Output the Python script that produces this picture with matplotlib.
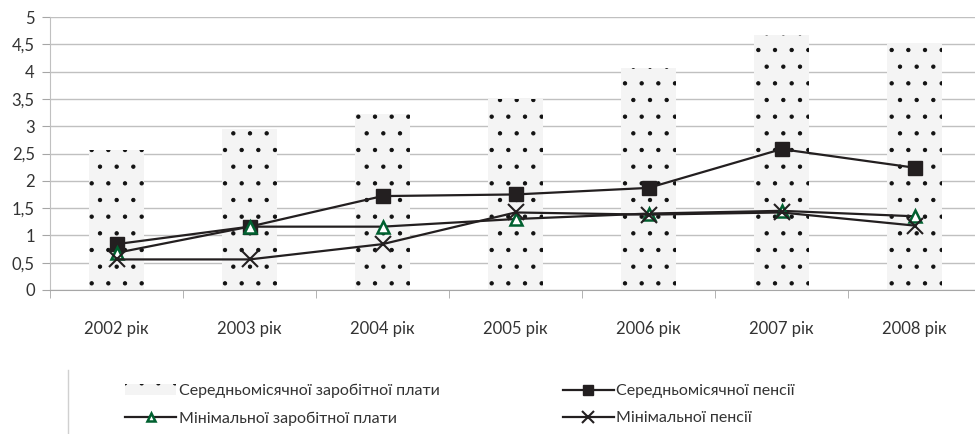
import matplotlib
matplotlib.use("Agg")
import matplotlib.pyplot as plt
from matplotlib.lines import Line2D
import numpy as np

plt.rcParams['font.family'] = ['Lato', 'Noto Sans', 'DejaVu Sans']
plt.rcParams['hatch.linewidth'] = 0.7

years = ["2002 рік", "2003 рік", "2004 рік", "2005 рік", "2006 рік", "2007 рік", "2008 рік"]
avg_wage = [2.56, 2.95, 3.22, 3.5, 4.06, 4.67, 4.52]
avg_pension = [0.84, 1.16, 1.72, 1.75, 1.87, 2.58, 2.24]
min_wage = [0.68, 1.16, 1.16, 1.30, 1.40, 1.45, 1.35]
min_pension = [0.56, 0.56, 0.84, 1.42, 1.38, 1.42, 1.18]

lbl_bar = "Середньомісячної заробітної плати"
lbl_avgp = "Середньомісячної пенсії"
lbl_minw = "Мінімальної заробітної плати"
lbl_minp = "Мінімальної пенсії"

fig = plt.figure(figsize=(9.75, 4.34), dpi=100)
ax = fig.add_axes([50/975, 1-290/434, 931/975, 273/434])

x = np.arange(len(years))
line_c = '#231f20'
ax.bar(x, avg_wage, width=0.41, color='#f4f4f4', edgecolor='#111111', linewidth=0,
       hatch='.', label=lbl_bar, zorder=2)
ax.plot(x, avg_pension, color=line_c, lw=1.6, marker='s', ms=10,
        mfc=line_c, mec=line_c, label=lbl_avgp, zorder=3)
ax.plot(x, min_wage, color=line_c, lw=1.6, marker='^', ms=8, mfc='white',
        mec='#00602f', mew=1.8, label=lbl_minw, zorder=4)
ax.plot(x, min_pension, color=line_c, lw=1.6, marker='x', ms=12, mew=1.5,
        mec=line_c, label=lbl_minp, zorder=5)

ax.set_xlim(-0.5, len(years) - 0.5)
ax.set_ylim(0, 5)
yt = np.arange(0, 5.01, 0.5)
ax.set_yticks(yt)
ax.set_yticklabels([("%g" % v).replace('.', ',') for v in yt], fontsize=12, color='#333333')
ax.set_xticks(x)
ax.set_xticklabels(years, fontsize=12, color='#333333')
ax.set_xticks(np.arange(-0.5, len(years), 1), minor=True)
ax.tick_params(axis='x', which='major', length=0, pad=22)
ax.tick_params(axis='x', which='minor', length=6, color='#a6a6a6', direction='out')
ax.tick_params(axis='y', length=6, color='#a6a6a6', pad=5)
ax.grid(axis='y', color='#c0c0c0', lw=1.0, zorder=0)
for s in ['top', 'right']:
    ax.spines[s].set_visible(False)
ax.spines['left'].set_color('#c0c0c0')
ax.spines['bottom'].set_color('#a6a6a6')

h, l = ax.get_legend_handles_labels()
hmap = dict(zip(l, h))
handles = [hmap[lbl_bar], hmap[lbl_minw], hmap[lbl_avgp], hmap[lbl_minp]]
labels = [lbl_bar, lbl_minw, lbl_avgp, lbl_minp]
fig.legend(handles, labels, loc='upper left', bbox_to_anchor=(114/975, 1-373/434),
           ncol=2, frameon=False, fontsize=11.5, handlelength=3.2, handletextpad=0.15,
           columnspacing=7.7, labelspacing=0.8, labelcolor='#333333', markerscale=0.75,
           borderpad=0.2)
fig.add_artist(Line2D([68/975, 68/975], [0, 1-370/434], color='#d0d0d0', lw=1))

fig.savefig('out.png', dpi=100)
